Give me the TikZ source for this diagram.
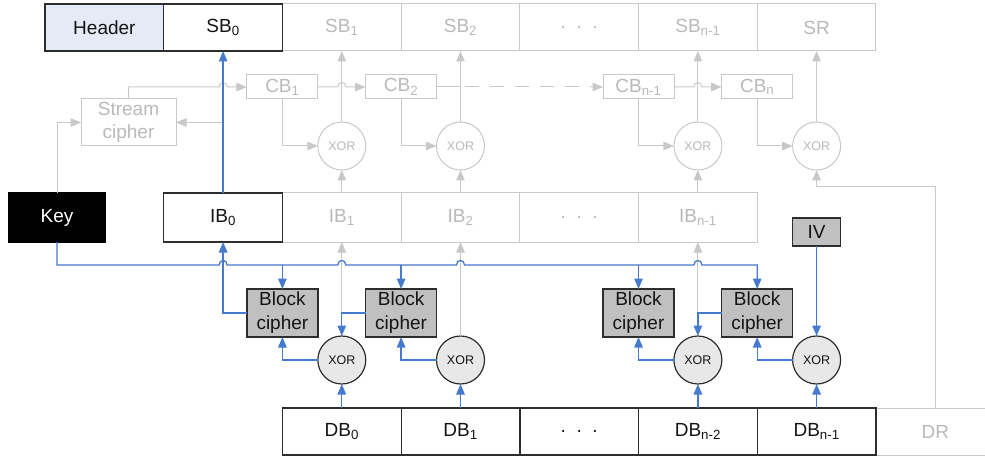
\documentclass[tikz,border=0pt]{standalone}
\usepackage{fontspec}
\setmainfont{Liberation Sans}
\usetikzlibrary{arrows.meta,calc}

\definecolor{bluewire}{RGB}{70,122,205}
\definecolor{greywire}{RGB}{200,200,200}
\definecolor{greytext}{RGB}{185,185,185}
\definecolor{darkedge}{RGB}{45,45,45}
\definecolor{inktext}{RGB}{20,20,20}
\definecolor{headerfill}{RGB}{228,234,246}
\definecolor{cipherfill}{RGB}{192,192,192}
\definecolor{xorfill}{RGB}{232,232,232}

\newcommand{\lowidx}[1]{\textsubscript{#1}}

\begin{document}
\begin{tikzpicture}[x=1pt,y=-1pt,
  font=\fontsize{19}{23}\selectfont,
  cell/.style={rectangle, minimum width=118.7pt, minimum height=47pt,
    inner sep=0pt, outer sep=0pt, draw=darkedge, line width=1.3pt, text=inktext},
  ghostcell/.style={cell, draw=greywire, line width=1pt, text=greytext},
  tallcell/.style={minimum height=49pt},
  cbbox/.style={rectangle, minimum width=71pt, minimum height=24pt, inner sep=0pt,
    outer sep=0pt, draw=greywire, line width=1pt, text=greytext},
  cipherbox/.style={rectangle, minimum width=71pt, minimum height=48pt, inner sep=0pt,
    outer sep=0pt, draw=darkedge, line width=1.2pt, fill=cipherfill, text=inktext,
    align=center, font=\fontsize{19}{24}\selectfont},
  xorghost/.style={circle, minimum size=48pt, inner sep=0pt, outer sep=0pt,
    draw=greywire, line width=1pt, fill=white, text=greytext, font=\fontsize{12.5}{14}\selectfont},
  xorgate/.style={circle, minimum size=48pt, inner sep=0pt, outer sep=0pt,
    draw=darkedge, line width=1.2pt, fill=xorfill, text=inktext, font=\fontsize{12.5}{14}\selectfont},
  tip/.style={-{Triangle[length=10.5pt,width=8.5pt]}},
  greyline/.style={draw=greywire, line width=1pt},
  greyarrow/.style={greyline, tip},
  blueline/.style={draw=bluewire, line width=1.3pt},
  bluearrow/.style={blueline, tip}
]
\useasboundingbox (0,0) rectangle (985,457);

% ---- stored blocks (top row)
\node[ghostcell] (sb1) at (341.8,27.5) {SB\lowidx{1}};
\node[ghostcell] (sb2) at (460.5,27.5) {SB\lowidx{2}};
\node[ghostcell] (sbd) at (579.2,27.5) {.\ \ .\ \ .};
\node[ghostcell] (sbn) at (697.9,27.5) {SB\lowidx{n-1}};
\node[ghostcell] (sr)  at (816.6,27.5) {SR};
\node[cell, fill=headerfill] (hdr) at (104.4,27.5) {Header};
\node[cell] (sb0) at (223.1,27.5) {SB\lowidx{0}};

% ---- stream cipher and CB chain
\node[rectangle, minimum width=95pt, minimum height=47pt, inner sep=0pt, outer sep=0pt,
  draw=greywire, line width=1pt, text=greytext, align=center] (sc) at (128.5,122.5) {Stream\\cipher};
\node[cbbox] (cb1)  at (282.4,87) {CB\lowidx{1}};
\node[cbbox] (cb2)  at (401.1,87) {CB\lowidx{2}};
\node[cbbox] (cbn1) at (638.5,87) {CB\lowidx{n-1}};
\node[cbbox] (cbn)  at (757.2,87) {CB\lowidx{n}};

\node[xorghost] (xt1) at (341.8,146) {XOR};
\node[xorghost] (xt2) at (460.5,146) {XOR};
\node[xorghost] (xt3) at (697.9,146) {XOR};
\node[xorghost] (xt4) at (816.6,146) {XOR};

% ---- intermediate blocks
\node[ghostcell, tallcell] (ib1) at (341.8,217.5) {IB\lowidx{1}};
\node[ghostcell, tallcell] (ib2) at (460.5,217.5) {IB\lowidx{2}};
\node[ghostcell, tallcell] (ibd) at (579.2,217.5) {.\ \ .\ \ .};
\node[ghostcell, tallcell] (ibn) at (697.9,217.5) {IB\lowidx{n-1}};
\node[cell, tallcell] (ib0) at (223.1,217.5) {IB\lowidx{0}};
\node[cell, tallcell, minimum width=96pt, fill=black, draw=black, text=white] (key) at (57,217.5) {Key};
\node[cipherbox, minimum width=48pt, minimum height=28pt] (iv) at (816.6,232) {IV};

% ---- block ciphers and XOR gates
\node[cipherbox] (bc1) at (282.4,313) {Block\\cipher};
\node[cipherbox] (bc2) at (401.1,313) {Block\\cipher};
\node[cipherbox] (bc3) at (638.5,313) {Block\\cipher};
\node[cipherbox] (bc4) at (757.2,313) {Block\\cipher};

\node[xorgate] (xb1) at (341.8,360) {XOR};
\node[xorgate] (xb2) at (460.5,360) {XOR};
\node[xorgate] (xb3) at (697.9,360) {XOR};
\node[xorgate] (xb4) at (816.6,360) {XOR};

% ---- data blocks (bottom row)
\node[ghostcell] (dr)   at (935.3,431.5) {DR};
\node[cell] (db0)  at (341.8,431.5) {DB\lowidx{0}};
\node[cell] (db1)  at (460.5,431.5) {DB\lowidx{1}};
\node[cell] (dbd)  at (579.2,431.5) {.\ \ .\ \ .};
\node[cell] (dbn2) at (697.9,431.5) {DB\lowidx{n-2}};
\node[cell] (dbn1) at (816.6,431.5) {DB\lowidx{n-1}};

\coordinate (bus) at (0,265);
\coordinate (drbend) at (0,187);

% ---- grey (stream) wiring
\draw[greyarrow] (key.north) |- (sc.west);
\draw[greyarrow] (ib0.north |- sc.east) -- (sc.east);
\draw[greyarrow] (sc.north) |- (219.1,87) .. controls (219.1,81) and (227.1,81) .. (227.1,87) -- (cb1.west);
\draw[greyarrow] (cb1.east) -- (337.8,87) .. controls (337.8,81) and (345.8,81) .. (345.8,87) -- (cb2.west);
\draw[greyline] (cb2.east) -- (460.5,87);
\draw[greyarrow, dash pattern=on 14pt off 11pt] (465,87) -- (cbn1.west);
\draw[greyarrow] (cbn1.east) -- (693.9,87) .. controls (693.9,81) and (701.9,81) .. (701.9,87) -- (cbn.west);

\draw[greyarrow] (cb1.south) |- (xt1.west);
\draw[greyarrow] (cb2.south) |- (xt2.west);
\draw[greyarrow] (cbn1.south) |- (xt3.west);
\draw[greyarrow] (cbn.south) |- (xt4.west);

\draw[greyarrow] (ib1.north) -- (xt1.south);
\draw[greyarrow] (ib2.north) -- (xt2.south);
\draw[greyarrow] (ibn.north) -- (xt3.south);
\draw[greyarrow] (dr.north) |- (xt4.south |- drbend) -- (xt4.south);

\draw[greyarrow] (xt1.north) -- (sb1.south);
\draw[greyarrow] (xt2.north) -- (sb2.south);
\draw[greyarrow] (xt3.north) -- (sbn.south);
\draw[greyarrow] (xt4.north) -- (sr.south);

\draw[greyarrow] (bc2.west -| ib1.south) -- (ib1.south);
\draw[greyarrow] (xb2.north) -- (ib2.south);
\draw[greyarrow] (bc4.west -| ibn.south) -- (ibn.south);

% ---- blue (block) wiring
\draw[bluearrow] (ib0.north) -- (sb0.south);
\draw[bluearrow] (key.south) |- (219.1,265)
  .. controls (219.1,259) and (227.1,259) .. (227.1,265) -- (337.8,265)
  .. controls (337.8,259) and (345.8,259) .. (345.8,265) -- (456.5,265)
  .. controls (456.5,259) and (464.5,259) .. (464.5,265) -- (693.9,265)
  .. controls (693.9,259) and (701.9,259) .. (701.9,265) -| (bc4.north);
\draw[bluearrow] (bc1.north |- bus) -- (bc1.north);
\draw[bluearrow] (bc2.north |- bus) -- (bc2.north);
\draw[bluearrow] (bc3.north |- bus) -- (bc3.north);

\draw[bluearrow] (bc1.west) -| (ib0.south);
\draw[bluearrow] (bc2.west) -| (xb1.north);
\draw[bluearrow] (bc4.west) -| (xb3.north);
\draw[bluearrow] (iv.south) -- (xb4.north);

\draw[bluearrow] (xb1.west) -| (bc1.south);
\draw[bluearrow] (xb2.west) -| (bc2.south);
\draw[bluearrow] (xb3.west) -| (bc3.south);
\draw[bluearrow] (xb4.west) -| (bc4.south);

\draw[bluearrow] (db0.north) -- (xb1.south);
\draw[bluearrow] (db1.north) -- (xb2.south);
\draw[bluearrow] (dbn2.north) -- (xb3.south);
\draw[bluearrow] (dbn1.north) -- (xb4.south);
\end{tikzpicture}
\end{document}
